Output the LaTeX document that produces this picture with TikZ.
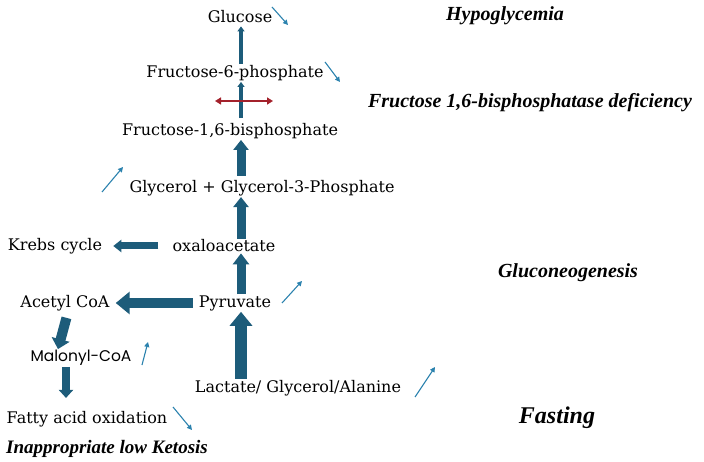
\documentclass[tikz,border=0pt]{standalone}
\usepackage{fontspec}
\setmainfont{DejaVu Serif}
\newfontfamily\condfont{Liberation Serif}
\newfontfamily\malfont{Poppins}
\usetikzlibrary{arrows.meta}
\definecolor{pathblue}{HTML}{1D5C7A}
\definecolor{hintblue}{HTML}{2B82AE}
\definecolor{blockred}{HTML}{A3212B}

\begin{document}
\begin{tikzpicture}[x=1pt,y=-1pt,
    every node/.style={font=\fontsize{16}{18}\selectfont,inner sep=1pt},
    cond/.style={font=\condfont\bfseries\itshape\fontsize{20}{22}\selectfont},
    flow/.style n args={3}{pathblue,line width=#1,-{Triangle[width=#2,length=#3]}},
    hint/.style={hintblue,line width=1.1pt,-{Triangle[width=5pt,length=5pt]}}]
    \useasboundingbox (0,0) rectangle (704,462);
    \coordinate (axis) at (241,0);
    % pathway
    \node (glucose) at (240,17) {Glucose};
    \node (f6p) at (235,73) {Fructose-6-phosphate};
    \node (f16bp) at (230,131) {Fructose-1,6-bisphosphate};
    \node (glycerol) at (262,188) {Glycerol + Glycerol-3-Phosphate};
    \node (oxalo) at (224,246) {oxaloacetate};
    \node (krebs) at (55,246) {Krebs cycle};
    \node (pyr) at (235,303) {Pyruvate};
    \node (acetyl) at (65,303) {Acetyl CoA};
    \node[font=\malfont\fontsize{15.5}{17}\selectfont] (malonyl) at (81,358) {Malonyl-CoA};
    \node (lactate) at (298,388) {Lactate/ Glycerol/Alanine};
    \node (fatty) at (87,419) {Fatty acid oxidation};
    % conditions
    \node[cond] (hypo) at (505,16) {Hypoglycemia};
    \node[cond] (fbpase) at (530,103) {Fructose 1,6-bisphosphatase deficiency};
    \node[cond] (gneo) at (568,273) {Gluconeogenesis};
    \node[cond,font=\condfont\bfseries\itshape\fontsize{24}{26}\selectfont] (fasting) at (557,418) {Fasting};
    \node[cond,font=\condfont\bfseries\itshape\fontsize{19}{21}\selectfont] (ketosis) at (107,449) {Inappropriate low Ketosis};
    % block arrows
    \draw[flow={4pt}{7pt}{5pt},shorten >=2pt] (f6p.north -| axis) -- (glucose.south -| axis);
    \draw[flow={4pt}{7pt}{5pt},shorten <=4pt] (f16bp.north -| axis) -- (f6p.south -| axis);
    \draw[flow={9pt}{15pt}{10pt},shorten <=3pt] (glycerol.north -| axis) -- (f16bp.south -| axis);
    \draw[flow={9pt}{15pt}{10pt}] (oxalo.north -| axis) -- (glycerol.south -| axis);
    \draw[flow={9pt}{16pt}{11pt}] (pyr.north -| axis) -- (oxalo.south -| axis);
    \draw[flow={12pt}{22pt}{14pt}] (lactate.north -| axis) -- (pyr.south -| axis);
    \draw[flow={7pt}{12pt}{8pt},shorten <=13pt,shorten >=10pt] (oxalo.west) -- (krebs.east);
    \draw[flow={10pt}{22pt}{14pt},shorten <=5pt,shorten >=5pt] (pyr.west) -- (acetyl.east);
    \draw[flow={10pt}{18pt}{10pt},shorten <=6pt] ([xshift=3pt]acetyl.south) -- ([xshift=-23pt]malonyl.north);
    \draw[flow={8pt}{14pt}{8pt},shorten >=12pt] ([xshift=-15pt]malonyl.south) -- ([xshift=-21pt]fatty.north);
    % blocked step
    \coordinate (blockL) at (215,101);
    \coordinate (blockR) at (273,101);
    \draw[blockred,line width=2.5pt,{Triangle[width=7pt,length=6pt]}-{Triangle[width=7pt,length=6pt]}] (blockL) -- (blockR);
    % trend arrows
    \draw[hint] (272,7) -- (288,25);
    \draw[hint] (325,62) -- (340,82);
    \draw[hint] (102,192) -- (123,167);
    \draw[hint] (282,303) -- (302,281);
    \draw[hint] (142,365) -- (148,342);
    \draw[hint] (415,397) -- (435,367);
    \draw[hint] (173,407) -- (192,430);
\end{tikzpicture}
\end{document}
